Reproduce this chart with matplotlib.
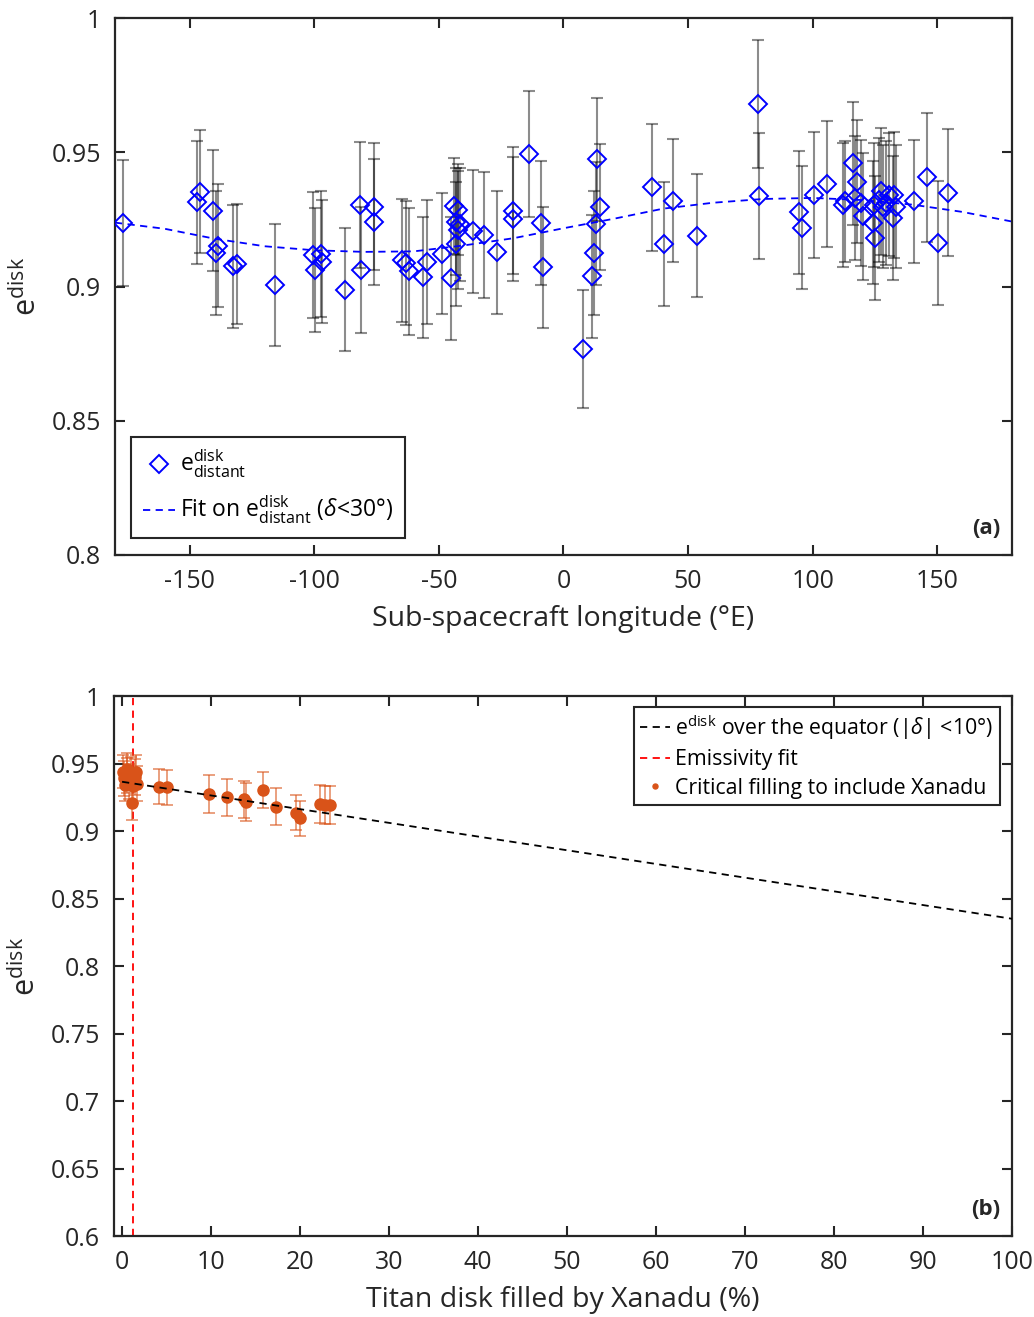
import numpy as np
import matplotlib
matplotlib.use('Agg')
import matplotlib.pyplot as plt
from matplotlib.ticker import FuncFormatter

plt.rcParams['font.family'] = ['Open Sans', 'DejaVu Sans']
plt.rcParams['mathtext.fontset'] = 'custom'
plt.rcParams['mathtext.rm'] = 'Open Sans'
plt.rcParams['mathtext.it'] = 'Open Sans:italic'
plt.rcParams['axes.unicode_minus'] = False

# (a) disk emissivity vs sub-spacecraft longitude
lon = [-176.9, -147.2, -145.9, -140.5, -138.8, -139.5, -132.5, -131.2, -115.6,
       -100.5, -99.9, -97.2, -96.8, -87.5, -81.6, -81.2, -75.9, -76.1,
       -64.8, -63.2, -62.1, -56.5, -54.8, -48.8, -45.2,
       -43.9, -42.5, -43.2, -41.6, -42.4, -43.0,
       -36.5, -31.9, -26.8, -20.1, -20.1, -13.9, -9.2, -8.1,
       7.9, 13.5, 14.5, 13.1, 12.1, 11.5, 35.7, 40.4, 44.1, 53.5,
       77.9, 78.3, 94.5, 95.9, 100.4, 105.9,
       112.8, 112.1, 116.1, 117.7, 116.8, 119.5, 120.1, 124.1, 125.2,
       127.5, 126.8, 128.1, 130.8, 132.8, 133.5, 132.4, 129.5, 124.8,
       140.8, 145.7, 150.4, 154.5]
e_dist = [0.9238, 0.9313, 0.9353, 0.9283, 0.9152, 0.9125, 0.9075, 0.9084, 0.9004,
          0.9118, 0.9062, 0.9121, 0.9093, 0.8988, 0.9304, 0.9062, 0.9298, 0.9241,
          0.9097, 0.9087, 0.9056, 0.9035, 0.9092, 0.9122, 0.9030,
          0.9300, 0.9286, 0.9242, 0.9232, 0.9209, 0.9159,
          0.9205, 0.9193, 0.9127, 0.9283, 0.9251, 0.9494, 0.9236, 0.9071,
          0.8767, 0.9474, 0.9296, 0.9234, 0.9125, 0.9038, 0.9369, 0.9159, 0.9320, 0.9190,
          0.9680, 0.9338, 0.9276, 0.9219, 0.9342, 0.9382,
          0.9317, 0.9304, 0.9459, 0.9391, 0.9329, 0.9311, 0.9261, 0.9238, 0.9180,
          0.9354, 0.9323, 0.9298, 0.9342, 0.9342, 0.9298, 0.9255, 0.9311, 0.9304,
          0.9317, 0.9407, 0.9162, 0.9350]
e_dist_err = [0.0235, 0.0230, 0.0230, 0.0225, 0.0230, 0.0230, 0.0230, 0.0225, 0.0227,
              0.0235, 0.0230, 0.0235, 0.0230, 0.0230, 0.0235, 0.0235, 0.0235, 0.0235,
              0.0230, 0.0230, 0.0235, 0.0225, 0.0230, 0.0225, 0.0230,
              0.0180, 0.0170, 0.0200, 0.0210, 0.0220, 0.0230,
              0.0230, 0.0235, 0.0230, 0.0235, 0.0230, 0.0234, 0.0230, 0.0225,
              0.0220, 0.0230, 0.0235, 0.0230, 0.0230, 0.0230, 0.0235, 0.0230, 0.0230, 0.0230,
              0.0240, 0.0235, 0.0230, 0.0230, 0.0235, 0.0235,
              0.0225, 0.0230, 0.0230, 0.0230, 0.0230, 0.0235, 0.0235, 0.0230, 0.0230,
              0.0235, 0.0230, 0.0230, 0.0230, 0.0235, 0.0230, 0.0230, 0.0230, 0.0230,
              0.0230, 0.0240, 0.0230, 0.0235]

fit_lon = [-180, -160, -140, -120, -100, -80, -60, -40, -20, 0,
           20, 40, 60, 80, 100, 120, 140, 160, 180]
fit_val = [0.9238, 0.9215, 0.9178, 0.9150, 0.9135, 0.9129, 0.9131, 0.9153, 0.9180, 0.9217,
           0.9252, 0.9290, 0.9312, 0.9326, 0.9330, 0.9322, 0.9305, 0.9278, 0.9242]

# (b) disk emissivity vs Xanadu filling
xan_fill = [0.1, 0.2, 0.3, 0.5, 0.6, 0.8, 1.0, 1.1, 1.2, 1.4, 1.6, 1.7,
            4.1, 5.1, 9.8, 11.8, 13.7, 13.9, 15.8, 17.3, 19.5, 20.0, 22.2, 22.8, 23.4]
e_eq = [0.944, 0.939, 0.934, 0.941, 0.946, 0.937, 0.943, 0.921, 0.933, 0.940, 0.944, 0.935,
        0.9328, 0.9324, 0.9274, 0.9249, 0.9234, 0.9217, 0.9304, 0.9181, 0.9137, 0.9096,
        0.9199, 0.9195, 0.9195]
e_eq_err = [0.012, 0.013, 0.012, 0.013, 0.012, 0.013, 0.012, 0.013, 0.012, 0.013, 0.012, 0.013,
            0.013, 0.013, 0.014, 0.014, 0.014, 0.014, 0.013, 0.014, 0.013, 0.013,
            0.014, 0.014, 0.014]
eq_line_x = [0, 100]
eq_line_y = [0.9365, 0.835]
fit_fill = 1.2

orange = '#D95319'
axcol = '#262626'

fig = plt.figure(figsize=(10.34, 13.17), dpi=100)
ax1 = fig.add_axes([0.1112, 0.5786, 0.8675, 0.4077])
ax2 = fig.add_axes([0.1103, 0.0615, 0.8685, 0.4100])

fmt = FuncFormatter(lambda v, p: '%g' % round(v, 2))

def style(ax):
    ax.tick_params(direction='in', top=True, right=True, length=7, width=1.5,
                   labelsize=18, colors=axcol, pad=10)
    for s in ax.spines.values():
        s.set_linewidth(1.6)
        s.set_color(axcol)
    ax.yaxis.set_major_formatter(fmt)

# ---- panel (a)
ax1.errorbar(lon, e_dist, yerr=e_dist_err, fmt='none', ecolor='k', alpha=0.45,
             elinewidth=1.5, capsize=4, capthick=1.5, zorder=1)
ax1.plot(lon, e_dist, 'D', mfc='none', mec='#0000ff', mew=1.4, ms=9.5, zorder=3,
         label=r'$\mathrm{e}^{\mathrm{disk}}_{\mathrm{distant}}$')
ax1.plot(fit_lon, fit_val, '--', color='#0000ff', lw=1.3, dashes=(4, 3), zorder=2,
         label=r'Fit on $\mathrm{e}^{\mathrm{disk}}_{\mathrm{distant}}$ ($\delta$<30°)')
ax1.set_xlim(-180, 180)
ax1.set_ylim(0.8, 1)
ax1.set_xticks(np.arange(-150, 151, 50))
ax1.set_yticks(np.arange(0.8, 1.001, 0.05))
style(ax1)
ax1.set_xlabel('Sub-spacecraft longitude (°E)', fontsize=20.5, color=axcol, labelpad=8)
ax1.set_ylabel(r'$\mathrm{e}^{\mathrm{disk}}$', fontsize=22, color=axcol, labelpad=6)
leg1 = ax1.legend(loc='lower left', bbox_to_anchor=(0.018, 0.032), borderaxespad=0,
                  fontsize=16.5, handlelength=1.4, handletextpad=0.25, fancybox=False,
                  edgecolor=axcol, framealpha=1, borderpad=0.5, labelspacing=0.6)
leg1.get_frame().set_linewidth(1.5)
ax1.text(0.987, 0.03, '(a)', transform=ax1.transAxes, ha='right', va='bottom',
         fontsize=16, fontweight='bold', color=axcol)

# ---- panel (b)
ax2.plot(eq_line_x, eq_line_y, '--', color='k', lw=1.3, dashes=(4, 3), zorder=4,
         label=r'$\mathrm{e}^{\mathrm{disk}}$ over the equator ($|\delta|$ <10°)')
ax2.axvline(fit_fill, color='#ff0000', ls='--', lw=1.3, dashes=(4, 3), zorder=2,
            label='Emissivity fit')
ax2.errorbar(xan_fill, e_eq, yerr=e_eq_err, fmt='none', ecolor=orange, alpha=0.7,
             elinewidth=1.1, capsize=4.5, capthick=1.1, zorder=3)
ax2.plot(xan_fill, e_eq, 'o', color=orange, ms=8, ls='none', zorder=3,
         label='Critical filling to include Xanadu')
ax2.set_xlim(-0.9, 100)
ax2.set_ylim(0.6, 1)
ax2.set_xticks(np.arange(0, 101, 10))
ax2.set_yticks(np.arange(0.6, 1.001, 0.05))
style(ax2)
ax2.set_xlabel('Titan disk filled by Xanadu (%)', fontsize=20.5, color=axcol, labelpad=8)
ax2.set_ylabel(r'$\mathrm{e}^{\mathrm{disk}}$', fontsize=22, color=axcol, labelpad=6)
leg2 = ax2.legend(loc='upper right', bbox_to_anchor=(0.998, 1.0), fontsize=15.3,
                  handlelength=1.4, handletextpad=0.25, fancybox=False, markerscale=0.45,
                  edgecolor=axcol, framealpha=1, borderpad=0.3, labelspacing=0.35)
leg2.get_frame().set_linewidth(1.5)
ax2.text(0.987, 0.03, '(b)', transform=ax2.transAxes, ha='right', va='bottom',
         fontsize=16, fontweight='bold', color=axcol)

fig.savefig('out.png', dpi=100)
